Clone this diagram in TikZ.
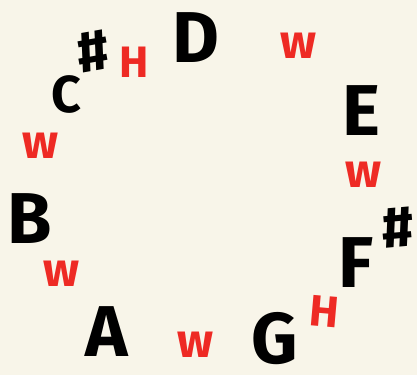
\documentclass[tikz,border=0pt]{standalone}
\usepackage{fontspec}
\setmainfont{Fira Sans}
\definecolor{bg}{RGB}{248,245,233}
\definecolor{wred}{RGB}{238,42,36}
\begin{document}
\begin{tikzpicture}[x=1pt,y=-1pt,
  note/.style={font=\fontsize{72}{72}\selectfont\bfseries, text=black, text height=50pt, text depth=0pt, inner sep=0pt, anchor=center},
  smallnote/.style={font=\fontsize{52}{52}\selectfont\bfseries, text=black, text height=36pt, text depth=0pt, inner sep=0pt, anchor=center},
  sharp/.style={font=\fontsize{58}{58}\selectfont\bfseries, text=black, text height=40pt, text depth=0pt, inner sep=0pt, anchor=center},
  whole/.style={font=\fontsize{48}{48}\selectfont\bfseries, text=wred, text height=25pt, text depth=0pt, inner sep=0pt, anchor=center},
  half/.style={font=\fontsize{44}{44}\selectfont\bfseries, text=wred, text height=30pt, text depth=0pt, inner sep=0pt, anchor=center}]
\fill[bg] (0,0) rectangle (417,375);
\useasboundingbox (0,0) rectangle (417,375);
% notes
\node[note] (nD) at (196,37) {D};
\node[note] (nE) at (361,110) {E};
\node[note] (nF) at (356,262) {F};
\node[sharp, rotate=5] (nFs) at (398,227) {\#};
\node[note] (nG) at (275,338) {G};
\node[note] (nA) at (107,331) {A};
\node[note] (nB) at (30,218) {B};
\node[smallnote] (nC) at (66,94) {C};
\node[sharp, rotate=10] (nCs) at (93,51) {\#};
% intervals
\node[whole] (i1) at (298,46) {w};
\node[whole] (i2) at (363,175) {w};
\node[half, rotate=-5] (i3) at (324,312) {H};
\node[whole] (i4) at (195,345) {w};
\node[whole] (i5) at (61,274) {w};
\node[whole] (i6) at (40,146) {w};
\node[half] (i7) at (134,62) {H};
\end{tikzpicture}
\end{document}
